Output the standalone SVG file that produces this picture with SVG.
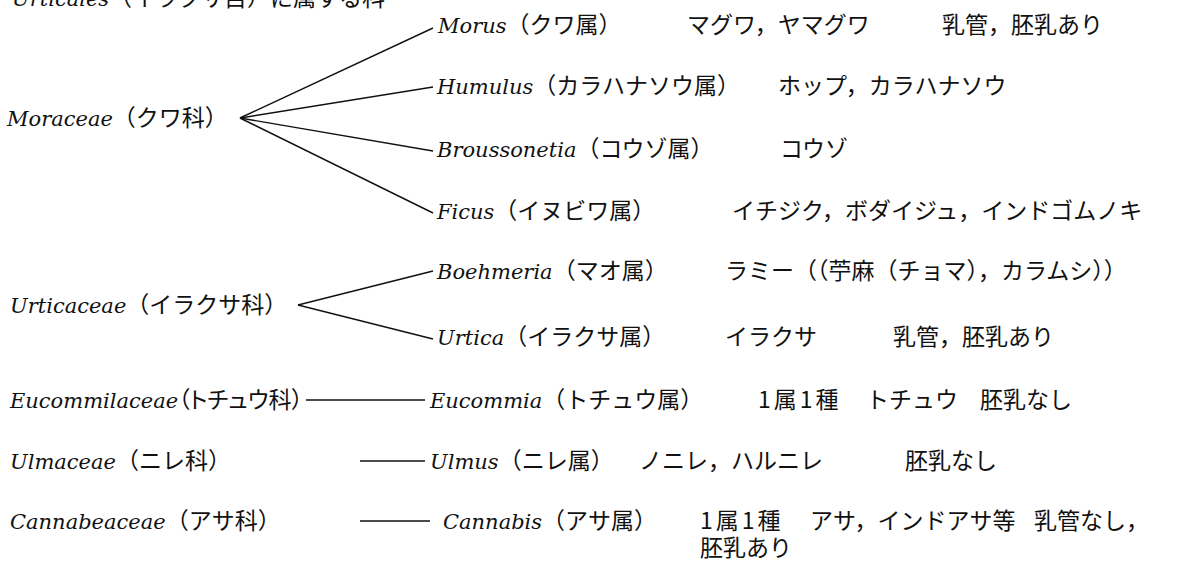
<svg xmlns="http://www.w3.org/2000/svg" width="1189" height="561" viewBox="0 0 1189 561">
<style>
text { font-family: "Noto Sans CJK JP", sans-serif; font-size: 23px; fill: #111; }
.la { font-family: "DejaVu Serif", "Liberation Serif", serif; font-style: italic; font-size: 21px; }
.tight { font-feature-settings: "palt"; }
.num { letter-spacing: 3px; }
.conn line { stroke: #111; stroke-width: 1.4; }
</style>
<rect width="1189" height="561" fill="#ffffff"/>
<g class="conn" id="connectors">
  <line x1="240" y1="118" x2="433" y2="28"/>
  <line x1="240" y1="118" x2="433" y2="87"/>
  <line x1="240" y1="118" x2="433" y2="151"/>
  <line x1="240" y1="118" x2="433" y2="213"/>
  <line x1="298" y1="305" x2="433" y2="271"/>
  <line x1="298" y1="305" x2="433" y2="339"/>
  <line x1="306" y1="400" x2="425" y2="400"/>
  <line x1="360" y1="461" x2="425" y2="461"/>
  <line x1="360" y1="521" x2="430" y2="521"/>
</g>
<g id="title"><text x="12" y="6"><tspan class="la">Urticales</tspan>（イラクサ目）に属する科</text></g>
<g id="moraceae"><text x="7" y="126"><tspan class="la">Moraceae</tspan>（クワ科）</text></g>
<g id="morus"><text x="438" y="33"><tspan class="la">Morus</tspan>（クワ属）<tspan x="687">マグワ，ヤマグワ</tspan><tspan x="942">乳管，胚乳あり</tspan></text></g>
<g id="humulus"><text x="437" y="94"><tspan class="la">Humulus</tspan>（カラハナソウ属）<tspan x="778">ホップ，カラハナソウ</tspan></text></g>
<g id="broussonetia"><text x="437" y="157"><tspan class="la">Broussonetia</tspan>（コウゾ属）<tspan x="780">コウゾ</tspan></text></g>
<g id="ficus"><text x="437" y="219"><tspan class="la">Ficus</tspan>（イヌビワ属）<tspan x="732">イチジク，ボダイジュ，インドゴムノキ</tspan></text></g>
<g id="urticaceae"><text x="10" y="313"><tspan class="la">Urticaceae</tspan>（イラクサ科）</text></g>
<g id="boehmeria"><text x="437" y="279"><tspan class="la">Boehmeria</tspan>（マオ属）<tspan x="725">ラミー（（苧麻（チョマ），カラムシ））</tspan></text></g>
<g id="urtica"><text x="437" y="345"><tspan class="la">Urtica</tspan>（イラクサ属）<tspan x="725">イラクサ</tspan><tspan x="893">乳管，胚乳あり</tspan></text></g>
<g id="eucommilaceae"><text x="10" y="408"><tspan class="la">Eucommilaceae</tspan><tspan class="tight">（トチュウ科）</tspan></text></g>
<g id="eucommia"><text x="430" y="408"><tspan class="la">Eucommia</tspan>（トチュウ属）<tspan x="758" class="num">1属1種</tspan><tspan x="866">トチュウ</tspan><tspan x="980">胚乳なし</tspan></text></g>
<g id="ulmaceae"><text x="10" y="469"><tspan class="la">Ulmaceae</tspan>（ニレ科）</text></g>
<g id="ulmus"><text x="430" y="469"><tspan class="la">Ulmus</tspan>（ニレ属）<tspan x="639">ノニレ，ハルニレ</tspan><tspan x="905">胚乳なし</tspan></text></g>
<g id="cannabeaceae"><text x="10" y="529"><tspan class="la">Cannabeaceae</tspan>（アサ科）</text></g>
<g id="cannabis"><text x="443" y="529"><tspan class="la">Cannabis</tspan>（アサ属）<tspan x="700" class="num">1属1種</tspan><tspan x="810">アサ，インドアサ等</tspan><tspan x="1034">乳管なし，</tspan></text><text x="700" y="556">胚乳あり</text></g>
</svg>
